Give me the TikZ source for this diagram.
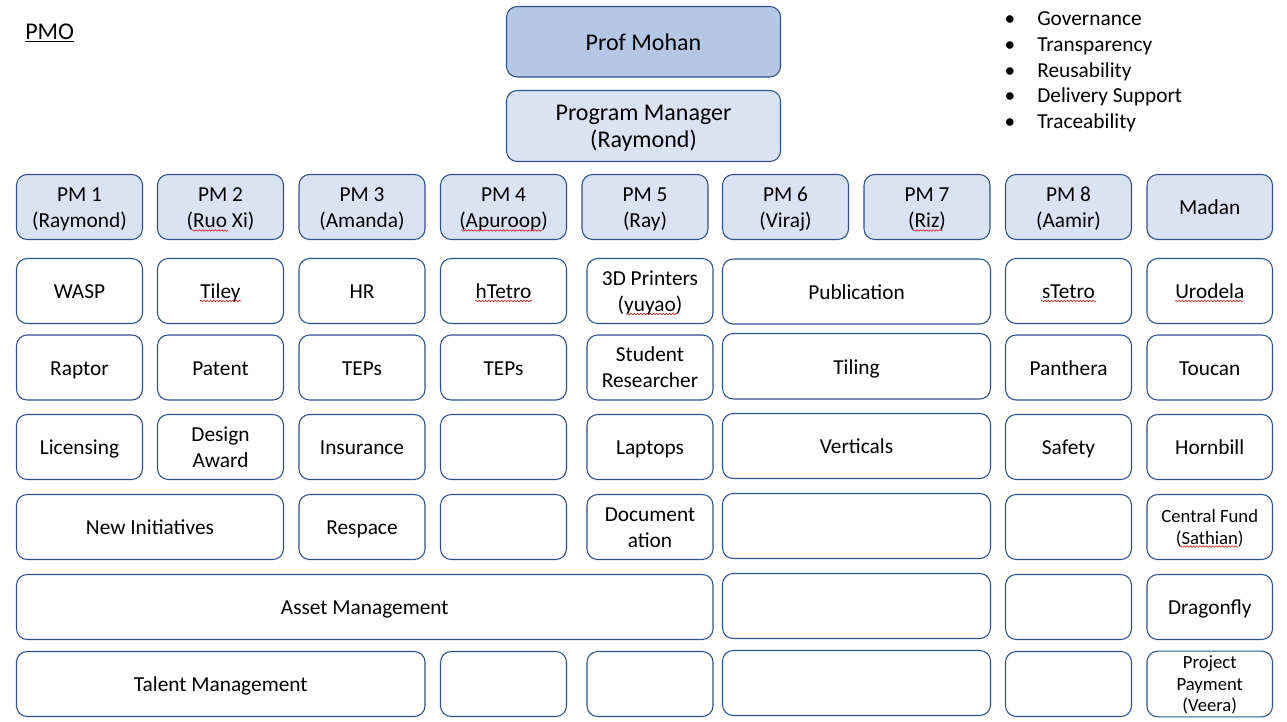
\documentclass[tikz,border=0pt]{standalone}
\usepackage{fontspec}
\setmainfont{Carlito}
\usetikzlibrary{decorations.pathmorphing}
\definecolor{edgeblue}{HTML}{2F528F}
\definecolor{topfill}{HTML}{B4C7E7}
\definecolor{pmfill}{HTML}{DAE3F3}
\definecolor{spellred}{HTML}{E02020}
\newcommand{\linestrut}{\rule[-0.26em]{0pt}{1.26em}}
\newcommand{\tallstrut}{\rule{0pt}{0.93em}}
% style, name, x1, y1, x2, y2, text
\newcommand{\mybox}[7]{%
  \pgfmathsetmacro\bxcx{(#3+#5)/2}%
  \pgfmathsetmacro\bxcy{(#4+#6)/2}%
  \pgfmathsetmacro\bxww{(#5-#3)*0.75}%
  \pgfmathsetmacro\bxhh{(#6-#4)*0.75}%
  \node[#1, minimum width=\bxww pt, minimum height=\bxhh pt] (#2) at (\bxcx,\bxcy) {#7};%
}
\begin{document}
\begin{tikzpicture}[x=0.75pt,y=-0.75pt,
  box/.style={draw=edgeblue, line width=0.8pt, rounded corners=8pt, inner sep=0pt, outer sep=0pt,
              align=center, fill=white, font=\fontsize{16}{19.5}\selectfont,
              execute at begin node=\linestrut, execute at end node=\linestrut},
  pmbox/.style={box, fill=pmfill},
  bigbox/.style={box, font=\fontsize{18}{20.8}\selectfont},
  topbox/.style={bigbox, fill=topfill},
  mgrbox/.style={bigbox, fill=pmfill},
  smallbox/.style={box, font=\fontsize{14}{16.3}\selectfont},
  bullettext/.style={anchor=base west, inner sep=0pt, font=\fontsize{16}{19.2}\selectfont},
  bulletdot/.style={anchor=base, inner sep=0pt, font=\fontsize{16}{19.2}\selectfont},
  squiggle/.style={draw=spellred, line width=0.45pt, decorate,
                   decoration={snake, amplitude=0.6pt, segment length=2.4pt}}]
\useasboundingbox (0,0) rectangle (1287,721);

% title
\node[anchor=base west, inner sep=0pt, font=\fontsize{18}{19.8}\selectfont] (pmo) at (25,39) {\underline{PMO}};

% bullets
\foreach \t/\yy [count=\i] in {Governance/26, Transparency/51.6, Reusability/77.2, Delivery Support/102.8, Traceability/128.4}{
  \node[bulletdot] (dot\i) at (1010,\yy) {•};
  \node[bullettext] (item\i) at (1037,\yy) {\t};
}

% top
\mybox{topbox}{prof}{506.5}{6.5}{780.5}{77}{Prof Mohan}
\mybox{mgrbox}{progmgr}{506.5}{90.5}{780.5}{161.5}{\tallstrut Program Manager\\(Raymond)}

% PM row
\mybox{pmbox}{pm1}{16.5}{174.5}{142.5}{239.5}{\tallstrut PM 1\\(Raymond)}
\mybox{pmbox}{pm2}{157.5}{174.5}{283.5}{239.5}{\tallstrut PM 2\\(Ruo Xi)}
\mybox{pmbox}{pm3}{299}{174.5}{425}{239.5}{\tallstrut PM 3\\(Amanda)}
\mybox{pmbox}{pm4}{440.5}{174.5}{566.5}{239.5}{\tallstrut PM 4\\(Apuroop)}
\mybox{pmbox}{pm5}{582}{174.5}{708}{239.5}{\tallstrut PM 5\\(Ray)}
\mybox{pmbox}{pm6}{722.5}{174.5}{848.5}{239.5}{\tallstrut PM 6\\(Viraj)}
\mybox{pmbox}{pm7}{864}{174.5}{990}{239.5}{\tallstrut PM 7\\(Riz)}
\mybox{pmbox}{pm8}{1005.5}{174.5}{1131.5}{239.5}{\tallstrut PM 8\\(Aamir)}
\mybox{pmbox}{madan}{1147}{174.5}{1272.5}{239.5}{Madan}

% row 1
\mybox{box}{wasp}{16.5}{258.5}{142.5}{323.5}{WASP}
\mybox{box}{tiley}{157.5}{258.5}{283.5}{323.5}{Tiley}
\mybox{box}{hr}{299}{258.5}{425}{323.5}{HR}
\mybox{box}{htetro}{440.5}{258.5}{566.5}{323.5}{hTetro}
\mybox{box}{printers}{587}{258.5}{713}{323.5}{\tallstrut 3D Printers\\(yuyao)}
\mybox{box}{publication}{722.5}{259}{990.5}{324}{Publication}
\mybox{box}{stetro}{1005.5}{258.5}{1131.5}{323.5}{sTetro}
\mybox{box}{urodela}{1147}{258.5}{1272.5}{323.5}{Urodela}

% row 2
\mybox{box}{raptor}{16.5}{335}{142.5}{400}{Raptor}
\mybox{box}{patent}{157.5}{335}{283.5}{400}{Patent}
\mybox{box}{tepsa}{299}{335}{425}{400}{TEPs}
\mybox{box}{tepsb}{440.5}{335}{566.5}{400}{TEPs}
\mybox{box}{student}{587}{335}{713}{400}{\tallstrut Student\\Researcher}
\mybox{box}{tiling}{722.5}{333.5}{990.5}{399}{Tiling}
\mybox{box}{panthera}{1005.5}{335}{1131.5}{400}{Panthera}
\mybox{box}{toucan}{1147}{335}{1272.5}{400}{Toucan}

% row 3
\mybox{box}{licensing}{16.5}{414.5}{142.5}{479.5}{Licensing}
\mybox{box}{design}{157.5}{414.5}{283.5}{479.5}{\tallstrut Design\\Award}
\mybox{box}{insurance}{299}{414.5}{425}{479.5}{Insurance}
\mybox{box}{emptyc}{440.5}{414.5}{566.5}{479.5}{}
\mybox{box}{laptops}{587}{414.5}{713}{479.5}{Laptops}
\mybox{box}{verticals}{722.5}{413.5}{990.5}{478.5}{Verticals}
\mybox{box}{safety}{1005.5}{414.5}{1131.5}{479.5}{Safety}
\mybox{box}{hornbill}{1147}{414.5}{1272.5}{479.5}{Hornbill}

% row 4
\mybox{box}{newinit}{16.5}{494.5}{283.5}{559.5}{New Initiatives}
\mybox{box}{respace}{299}{494.5}{425}{559.5}{Respace}
\mybox{box}{emptyd}{440.5}{494.5}{566.5}{559.5}{}
\mybox{box}{documentation}{587}{494.5}{713}{559.5}{\tallstrut Document\\ation}
\mybox{box}{emptydd}{722.5}{493.5}{990.5}{558.5}{}
\mybox{box}{emptyde}{1005.5}{494.5}{1131.5}{559.5}{}
\mybox{smallbox}{centralfund}{1147}{494.5}{1272.5}{559.5}{\tallstrut Central Fund\\(Sathian)}

% row 5
\mybox{box}{asset}{16.5}{574.5}{713}{639.5}{Asset Management}
\mybox{box}{emptye}{722.5}{573.5}{990.5}{638.5}{}
\mybox{box}{emptyee}{1005.5}{574.5}{1131.5}{639.5}{}
\mybox{box}{dragonfly}{1147}{574.5}{1272.5}{639.5}{Dragonfly}

% row 6
\mybox{box}{talent}{16.5}{651.5}{425}{716.5}{Talent Management}
\mybox{box}{emptyf}{440.5}{651.5}{566.5}{716.5}{}
\mybox{box}{emptyff}{587}{651.5}{713}{716.5}{}
\mybox{box}{emptyfg}{722.5}{650.5}{990.5}{715.5}{}
\mybox{box}{emptyfh}{1005.5}{651.5}{1131.5}{716.5}{}
\mybox{smallbox}{payment}{1147}{651.5}{1272.5}{716.5}{\tallstrut Project\\Payment\\(Veera)}

% spell-check underlines
\draw[squiggle] (192,230.5) -- (228,230.5);
\draw[squiggle] (461,230.5) -- (542,230.5);
\draw[squiggle] (913,230.5) -- (942,230.5);
\draw[squiggle] (200,301) -- (241,301);
\draw[squiggle] (475,301) -- (532,301);
\draw[squiggle] (627,314) -- (677,314);
\draw[squiggle] (1041,301) -- (1096,301);
\draw[squiggle] (1175,301) -- (1243,301);
\draw[squiggle] (1180,546.5) -- (1238,546.5);
\end{tikzpicture}
\end{document}
